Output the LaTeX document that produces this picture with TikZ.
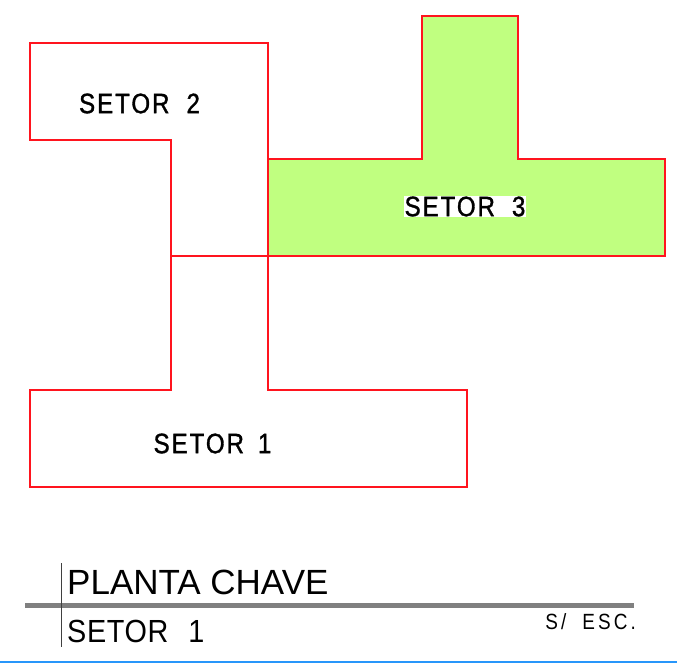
\documentclass[tikz,border=0pt]{standalone}
\usepackage{fontspec}
\setmainfont{Liberation Sans}
\newfontfamily\cadfont[FakeStretch=0.86,LetterSpace=7,FakeBold=1.2]{Liberation Sans}
\newfontfamily\cadthin[FakeStretch=1.0]{Liberation Sans}
\newfontfamily\cadsub[FakeStretch=0.9,LetterSpace=2]{Liberation Sans}
\newfontfamily\cadesc[FakeStretch=0.86,LetterSpace=14]{Liberation Sans}
\definecolor{sectorred}{RGB}{255,20,30}
\definecolor{sectorgreen}{RGB}{192,255,128}
\definecolor{rulegray}{RGB}{128,128,128}
\definecolor{pageblue}{RGB}{40,150,250}
\tikzset{
  sector/.style={draw=sectorred,line width=1.4pt,line join=miter},
  sectorlabel/.style={font=\cadfont\fontsize{28}{28}\selectfont,inner sep=1pt,text=black},
}
\begin{document}
\begin{tikzpicture}[x=1pt,y=-1pt]
\useasboundingbox (0,0) rectangle (677,670);
\fill[white] (0,0) rectangle (677,670);
% sector 3
\path[sector,fill=sectorgreen] (268,159) -- (422,159) -- (422,16) -- (518,16) -- (518,159) -- (665,159) -- (665,256) -- (268,256) -- cycle;
% sector 2
\path[sector] (30,43) -- (268,43) -- (268,256) -- (171,256) -- (171,140) -- (30,140) -- cycle;
% sector 1
\path[sector] (171,256) -- (268,256) -- (268,390) -- (467,390) -- (467,487) -- (30,487) -- (30,390) -- (171,390) -- cycle;
% labels
\node[sectorlabel] (s2) at (139.5,103.5) {SETOR\hspace{17pt}2};
\node[sectorlabel,fill=white] (s3) at (465,206.5) {SETOR\hspace{17pt}3};
\node[sectorlabel] (s1) at (212.5,443.5) {SETOR\hspace{14pt}1};
% title block
\draw[rulegray,line width=5pt] (25,605) -- (634,605);
\draw[black!75,line width=1pt] (61,563) -- (61,647);
\node[anchor=base west,inner sep=0pt,font=\cadthin\fontsize{35}{35}\selectfont] (title) at (67,594) {PLANTA CHAVE};
\node[anchor=base west,inner sep=0pt,font=\cadsub\fontsize{32}{32}\selectfont] (sub) at (67,642) {SETOR\hspace{20pt}1};
\node[anchor=base east,inner sep=0pt,font=\cadesc\fontsize{22}{22}\selectfont] (esc) at (636,629) {S/\hspace{16pt}ESC.};
\draw[pageblue,line width=1.8pt] (0,662) -- (677,662);
\end{tikzpicture}
\end{document}
